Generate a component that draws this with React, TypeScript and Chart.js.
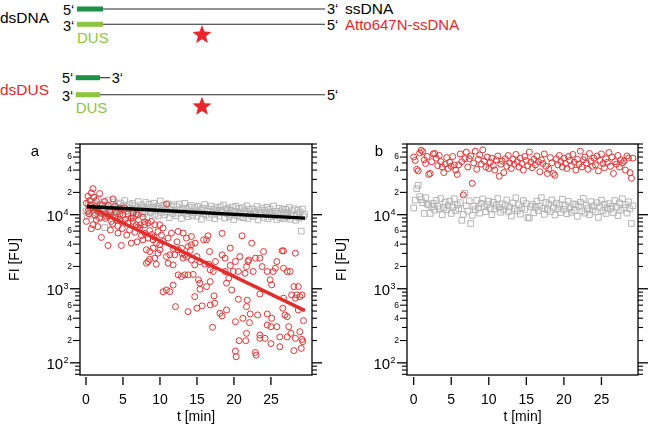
import React, { useEffect, useRef } from "react";
import { Chart, registerables } from "chart.js";

Chart.register(...registerables);

const FONT = "'Liberation Sans', Arial, Helvetica, sans-serif";

// ---------- axis definitions ----------
const X_TICKS = [0, 5, 10, 15, 20, 25];
const Y_DECADES = [100, 1000, 10000];
const Y_DECADE_EXP = ["2", "3", "4"];
const Y_MULTIPLIERS = [2, 3, 4, 5, 6, 7, 8, 9];
const Y_LABELED_MULT = [2, 4, 6];
const Y_MIN = 68.5;
const Y_MAX = 90000;

// ---------- panel a ----------
// Atto647N-ssDNA (dsDUS) in panel a: [t (min), FI (FU)]
const redA: [number, number][] = [
  [0.95,22500],[0.27,17700],[0.72,19700],[1.08,17200],[1.85,19300],[0.5,15500],[1.4,15500],[2.53,15100],[3.65,16300],[0.05,14300],
  [2.98,13400],[3.88,13000],[4.56,12300],[5.23,12300],[0.27,11100],[0.95,12300],[1.62,11100],[2.3,11700],[3.2,11100],[4.1,10500],
  [5.01,10000],[5.68,10200],[6.36,10500],[7.04,10000],[6.13,9020],[7.71,9200],[0.05,8120],[0.95,7320],[0.72,6460],[1.4,8560],
  [1.85,9020],[2.75,9490],[3.43,8120],[4.1,8560],[4.78,8120],[5.68,7710],[6.36,8120],[6.81,7320],[7.26,6600],[7.94,7320],
  [8.39,7710],[8.84,8120],[9.29,7320],[9.97,7320],[10.42,6600],[9.74,5940],[2.08,4930],[2.98,3840],[4.78,3840],[4.33,5650],
  [6.13,4130],[7.71,4580],[8.39,4830],[9.07,4580],[9.52,4130],[9.97,3920],[10.42,4350],[11.1,4830],[11.55,5650],[12.45,5940],
  [13.13,5650],[13.58,4830],[14.25,5080],[8.17,3360],[8.62,3180],[9.07,3530],[9.74,3020],[9.29,2590],[8.39,2330],[8.17,2210],
  [10.87,2720],[11.32,2870],[12.0,2870],[12.45,3360],[12.9,3530],[13.13,2590],[13.35,2870],[13.8,3720],[14.25,3920],[11.1,2210],
  [11.78,2100],[12.45,1540],[12.9,1460],[13.35,1540],[13.8,1540],[14.48,1560],[14.7,2100],[14.25,2450],[10.42,913],[10.87,964],
  [11.32,913],[11.78,1120],[10.9,13900],
  [0.4,10300],[0.6,13500],[1.2,9800],[1.3,12800],[2.0,10400],[2.2,13600],[2.6,8900],[3.0,9700],[3.3,10900],[3.6,7500],
  [3.9,9300],[4.3,7000],[4.6,10200],[4.9,6500],[5.3,8600],[5.9,6200],[6.6,5800],[7.0,6800],[7.5,5200],[8.0,5600],
  [8.6,6100],[9.2,5000],[10.2,5300],[11.8,3500],[12.3,4300],[13.0,3000],[13.6,2700],[14.1,3300],[5.5,5300],[6.9,4300],
  [3.3,6200],[1.6,6900],[6.4,9000],[6.8,10300],[7.3,7300],[7.9,8000],[8.9,5400],[8.6,2500],[9.5,2150],[10.0,3360],
  [12.1,574],[13.8,491],
  [14.75,4130],[15.0,2720],[15.4,2330],[15.9,4580],[16.3,4580],[16.5,5190],[16.7,3180],[16.1,2150],[16.6,2150],[16.8,1800],
  [17.2,1710],[17.5,2330],[18.4,5600],[18.4,2870],[18.8,2590],[18.8,1710],[19.3,1390],[19.5,3540],[19.5,2060],[19.9,1710],
  [20.2,2330],[20.6,1710],[20.8,2720],[21.1,5190],[21.5,1620],[21.7,1990],[21.9,2330],[22.0,2450],[22.4,4130],[22.6,1710],
  [22.9,2590],[23.5,2590],[23.8,1990],[24.0,3180],[24.5,1710],[24.9,1320],[25.3,1710],[25.6,1890],[25.8,2330],[26.5,3250],
  [26.7,3250],[26.7,1890],[27.2,1710],[27.6,1710],[28.1,1070],[28.3,3020],[28.5,826],[28.7,1070],[29.2,826],
  [15.2,1320],[16.3,1070],[19.0,1190],[21.8,700],[23.5,850],[25.1,1130],[26.7,746],[16.8,1250],[15.4,1190],
  [15.4,985],[14.7,783],[15.0,546],[15.7,587],[16.8,605],[17.4,638],[17.3,801],[17.1,302],[18.1,467],[18.4,430],
  [19.0,517],[19.7,962],[20.2,359],[20.6,722],[20.2,144],[20.3,121],[20.7,199],[21.2,399],[21.6,199],[21.7,250],
  [21.7,574],[22.1,349],[22.2,457],[22.9,138],[23.0,127],[23.2,443],[23.5,237],[23.5,214],[24.2,214],[24.5,457],
  [24.5,324],[25.0,308],[25.0,182],[25.1,399],[25.8,308],[26.2,224],[26.2,165],[26.6,546],[26.9,443],[27.2,420],
  [27.2,224],[27.4,308],[27.7,250],[28.1,146],[28.3,214],[28.7,517],[28.9,263],[29.1,157],[29.2,207],[29.3,193],
  [29.4,371],[27.8,826],[28.3,746],[28.9,783]
];

// dsDNA (grey squares) in panel a
const greyA_t = [
  0,0.15,0.3,0.45,0.6,0.75,0.9,1.05,1.2,1.35,
  1.5,1.65,1.8,1.95,2.1,2.25,2.4,2.55,2.7,2.85,
  3,3.15,3.3,3.45,3.6,3.75,3.9,4.05,4.2,4.35,
  4.5,4.65,4.8,4.95,5.1,5.25,5.4,5.55,5.7,5.85,
  6,6.15,6.3,6.45,6.6,6.75,6.9,7.05,7.2,7.35,
  7.5,7.65,7.8,7.95,8.1,8.25,8.4,8.55,8.7,8.85,
  9,9.15,9.3,9.45,9.6,9.75,9.9,10.05,10.2,10.35,
  10.5,10.65,10.8,10.95,11.1,11.25,11.4,11.55,11.7,11.85,
  12,12.15,12.3,12.45,12.6,12.75,12.9,13.05,13.2,13.35,
  13.5,13.65,13.8,13.95,14.1,14.25,14.4,14.55,14.7,14.85,
  15,15.15,15.3,15.45,15.6,15.75,15.9,16.05,16.2,16.35,
  16.5,16.65,16.8,16.95,17.1,17.25,17.4,17.55,17.7,17.85,
  18,18.15,18.3,18.45,18.6,18.75,18.9,19.05,19.2,19.35,
  19.5,19.65,19.8,19.95,20.1,20.25,20.4,20.55,20.7,20.85,
  21,21.15,21.3,21.45,21.6,21.75,21.9,22.05,22.2,22.35,
  22.5,22.65,22.8,22.95,23.1,23.25,23.4,23.55,23.7,23.85,
  24,24.15,24.3,24.45,24.6,24.75,24.9,25.05,25.2,25.35,
  25.5,25.65,25.8,25.95,26.1,26.25,26.4,26.55,26.7,26.85,
  27,27.15,27.3,27.45,27.6,27.75,27.9,28.05,28.2,28.35,
  28.5,28.65,28.8,28.95,29.1,29.25,29.4,29.55
];
const greyA_f = [
  11200,9600,13800,10400,12500,15200,9900,11800,14100,10700,
  12900,16200,11000,13400,9400,12200,14700,6700,13100,11500,
  15800,12000,10200,13600,11700,14900,9800,12600,10900,13900,
  11300,14400,12300,10000,13200,15500,11100,12800,9500,13700,
  12100,10500,14200,11600,13300,9700,12400,15000,10800,11900,
  13500,10300,12700,11400,14600,9300,12000,13800,10600,11200,
  12600,14300,10100,11800,13000,9600,12200,15300,10700,11500,
  13400,10000,12300,11000,14000,9100,11700,12900,10400,13600,
  11200,9700,12800,10500,13900,11400,8900,12100,10800,14200,
  10200,11900,9400,12600,11000,13300,9800,10600,12400,11300,
  9500,12900,10700,11600,8700,12200,10300,13700,9900,11100,
  12000,9200,10900,13100,10100,11700,8800,12500,10500,11400,
  9600,12800,10800,11200,13500,9000,11900,10400,12300,9400,
  11500,10000,12700,8600,11100,13000,9700,10600,12100,9300,
  10900,12400,9100,11300,10200,13200,8900,11800,10500,9800,
  12000,9500,11000,10300,12900,8500,11600,9900,10700,12300,
  9200,11400,10100,12600,8800,10800,11900,9400,10400,13100,
  9700,11100,8600,10500,12200,9100,10900,11700,8900,10200,
  11800,9300,10600,12500,8700,10000,11300,9600,12000,8400,
  10300,11500,9000,10800,6000,11900,9400,10100
];

// exponential fits (straight lines on the log axis)
const fitA_black: [number, number][] = [[0.1, 12900], [29.6, 9000]];
const fitA_red: [number, number][] = [[0.1, 13300], [29.6, 507]];

// ---------- panel b ----------
const tB = [
  0,0.2,0.4,0.6,0.8,1,1.2,1.4,1.6,1.8,
  2,2.2,2.4,2.6,2.8,3,3.2,3.4,3.6,3.8,
  4,4.2,4.4,4.6,4.8,5,5.2,5.4,5.6,5.8,
  6,6.2,6.4,6.6,6.8,7,7.2,7.4,7.6,7.8,
  8,8.2,8.4,8.6,8.8,9,9.2,9.4,9.6,9.8,
  10,10.2,10.4,10.6,10.8,11,11.2,11.4,11.6,11.8,
  12,12.2,12.4,12.6,12.8,13,13.2,13.4,13.6,13.8,
  14,14.2,14.4,14.6,14.8,15,15.2,15.4,15.6,15.8,
  16,16.2,16.4,16.6,16.8,17,17.2,17.4,17.6,17.8,
  18,18.2,18.4,18.6,18.8,19,19.2,19.4,19.6,19.8,
  20,20.2,20.4,20.6,20.8,21,21.2,21.4,21.6,21.8,
  22,22.2,22.4,22.6,22.8,23,23.2,23.4,23.6,23.8,
  24,24.2,24.4,24.6,24.8,25,25.2,25.4,25.6,25.8,
  26,26.2,26.4,26.6,26.8,27,27.2,27.4,27.6,27.8,
  28,28.2,28.4,28.6,28.8,29,29.2
];
const redB_f = [
  60000,54000,41000,39000,68000,74000,71000,55000,49000,61000,
  35000,36000,52000,66000,67000,58000,46000,63000,52000,44000,
  37000,48000,59000,42000,51000,45000,61000,47000,40000,35000,
  47000,66000,52000,18500,57000,70000,44000,57000,62000,26500,
  50000,72000,41000,56000,64000,48000,75000,53000,44000,60000,
  42000,51000,58000,46000,40000,55000,62000,33000,48000,53000,
  37000,57000,45000,63000,50000,42000,56000,48000,65000,52000,
  44000,58000,49000,40000,61000,54000,46000,70000,51000,43000,
  56000,47000,62000,52000,38000,55000,49000,66000,45000,36000,
  41000,59000,50000,36000,34000,57000,47000,63000,52000,44000,
  58000,49000,42000,61000,54000,46000,65000,51000,40000,56000,
  48000,72000,44000,55000,60000,50000,41000,67000,53000,45000,
  58000,47000,62000,39000,54000,66000,49000,43000,57000,51000,
  69000,45000,60000,36000,52000,48000,63000,44000,55000,50000,
  53000,40000,62000,58000,37000,31000,58000
];
const greyB_f = [
  12300,15700,22500,25000,17500,16000,14500,10400,17000,13900,
  13500,10400,12800,14200,11500,15600,13000,12000,16500,10000,
  12400,14800,11600,13300,15200,10400,12700,16400,11300,13600,
  12000,14500,8400,10100,19500,13200,11200,15400,7600,9800,
  13000,11700,15600,12300,10500,14200,16300,12800,11000,13700,
  15200,12100,10000,14700,11900,13400,16500,12500,10800,14000,
  11600,13300,15800,10900,12700,9600,14400,12000,16900,11300,
  13600,10200,12400,15500,11800,14100,9200,9000,12900,13800,
  10600,12600,15300,11400,13100,17000,12200,10100,14600,11700,
  13900,11000,15800,12500,9900,14300,12000,13500,10700,16200,
  11800,13300,10300,15100,12400,10800,14000,11500,13700,9500,
  12900,14800,11200,16600,10500,13400,12100,10000,15000,11600,
  13200,10900,14500,9200,12600,15700,11300,13800,10400,12200,
  14100,11900,13000,10600,15500,12700,9700,14400,11500,16400,
  12300,13600,10500,14900,12000,7600,13200
];

// ---------- drawing helpers ----------
const RED_PT = "rgb(228,50,50)";
const GREY_PT = "rgb(180,180,180)";
const FIT_RED = "rgb(228,45,42)";

const framePlugin = {
  id: "frame",
  afterDraw(chart: any) {
    const o = chart.options.plugins.frame;
    const { ctx, chartArea: a } = chart;
    const xs = chart.scales.x;
    const ys = chart.scales.y;
    ctx.save();
    ctx.strokeStyle = "#000";
    ctx.fillStyle = "#000";
    const line = (x1: number, y1: number, x2: number, y2: number) => {
      ctx.beginPath();
      ctx.moveTo(x1, y1);
      ctx.lineTo(x2, y2);
      ctx.stroke();
    };
    ctx.lineWidth = 1.3;
    ctx.strokeRect(a.left, a.top, a.right - a.left, a.bottom - a.top);

    // minor y ticks
    ctx.lineWidth = 1.1;
    for (const d of [10, 100, 1000, 10000]) {
      for (const m of Y_MULTIPLIERS) {
        const v = d * m;
        if (v < Y_MIN || v > Y_MAX) continue;
        const py = ys.getPixelForValue(v);
        const labeled = Y_LABELED_MULT.includes(m);
        line(a.left - (labeled ? 7 : 5), py, a.left, py);
        line(a.right, py, a.right + 5, py);
        if (labeled) {
          ctx.font = `8.5px ${FONT}`;
          ctx.textAlign = "right";
          ctx.textBaseline = "middle";
          ctx.fillText(String(m), a.left - 8, py);
        }
      }
    }
    // decade ticks
    ctx.lineWidth = 1.3;
    Y_DECADES.forEach((v, i) => {
      const py = ys.getPixelForValue(v);
      line(a.left - 10, py, a.left, py);
      line(a.right, py, a.right + 10, py);
      ctx.textAlign = "right";
      ctx.textBaseline = "alphabetic";
      ctx.font = `9px ${FONT}`;
      ctx.fillText(Y_DECADE_EXP[i], a.left - 11.5, py);
      const w = ctx.measureText(Y_DECADE_EXP[i]).width;
      ctx.font = `15px ${FONT}`;
      ctx.fillText("10", a.left - 11.5 - w - 0.3, py + 6.5);
    });

    // x ticks (offset below the frame)
    ctx.font = `14px ${FONT}`;
    ctx.textAlign = "center";
    ctx.textBaseline = "middle";
    X_TICKS.forEach((v) => {
      const px = xs.getPixelForValue(v);
      line(px, a.bottom + 2, px, a.bottom + 10);
      ctx.fillText(String(v), px, a.bottom + 25);
    });

    // axis titles
    ctx.fillText("t [min]", (a.left + a.right) / 2, a.bottom + 42.5);
    ctx.save();
    ctx.translate(a.left - 65, (a.top + a.bottom) / 2);
    ctx.rotate(-Math.PI / 2);
    ctx.fillText("FI [FU]", 0, 0);
    ctx.restore();

    // panel letter
    ctx.font = `15px ${FONT}`;
    ctx.textBaseline = "alphabetic";
    ctx.fillText(o.label, o.labelX, a.top + 11.7);
    ctx.restore();
  },
};

const toPts = (pairs: [number, number][]) => pairs.map(([x, y]) => ({ x, y }));
const zipPts = (t: number[], f: number[]) => t.map((x, i) => ({ x, y: f[i] }));

function makeConfig(datasets: any[], xMin: number, xMax: number, pad: any, label: string, labelX: number) {
  return {
    type: "scatter",
    data: { datasets },
    options: {
      animation: false,
      responsive: false,
      devicePixelRatio: 1,
      layout: { padding: pad },
      plugins: {
        legend: { display: false },
        tooltip: { enabled: false },
        frame: { label, labelX },
      },
      scales: {
        x: { type: "linear", min: xMin, max: xMax, display: false },
        y: { type: "logarithmic", min: Y_MIN, max: Y_MAX, display: false },
      },
    },
    plugins: [framePlugin],
  } as any;
}

const redStyle = {
  pointStyle: "circle",
  pointRadius: 3,
  borderWidth: 1,
  borderColor: RED_PT,
  backgroundColor: "rgba(0,0,0,0)",
};
const greyStyle = {
  pointStyle: "rect",
  pointRadius: 4,
  borderWidth: 1,
  borderColor: GREY_PT,
  backgroundColor: "rgba(0,0,0,0)",
};

function Panel(props: { which: "a" | "b"; left: number }) {
  const ref = useRef<HTMLCanvasElement>(null);
  useEffect(() => {
    if (!ref.current) return;
    let cfg;
    if (props.which === "a") {
      cfg = makeConfig(
        [
          { label: "fit dsDNA", data: toPts(fitA_black), showLine: true, borderColor: "#000", borderWidth: 3.4, pointRadius: 0, order: 0 },
          { label: "fit dsDUS", data: toPts(fitA_red), showLine: true, borderColor: FIT_RED, borderWidth: 3.4, pointRadius: 0, order: 0 },
          { label: "Atto647N-ssDNA", data: toPts(redA), ...redStyle, order: 1 },
          { label: "dsDNA", data: zipPts(greyA_t, greyA_f), ...greyStyle, order: 2 },
        ],
        -0.81,
        30.55,
        { left: 80, right: 13, top: 19, bottom: 52 },
        "a",
        35
      );
    } else {
      cfg = makeConfig(
        [
          { label: "Atto647N-ssDNA", data: zipPts(tB, redB_f), ...redStyle, order: 1 },
          { label: "dsDNA", data: zipPts(tB, greyB_f), ...greyStyle, order: 2 },
        ],
        -0.89,
        29.87,
        { left: 82, right: 12, top: 19, bottom: 52 },
        "b",
        54
      );
    }
    const chart = new Chart(ref.current, cfg);
    return () => chart.destroy();
  }, [props.which]);
  return (
    <canvas
      ref={ref}
      width={325}
      height={302}
      style={{ position: "absolute", left: props.left, top: 125, width: 325, height: 302 }}
    />
  );
}

function starPoints(cx: number, cy: number, R: number, r: number) {
  const pts: string[] = [];
  for (let i = 0; i < 10; i++) {
    const ang = -Math.PI / 2 + (i * Math.PI) / 5;
    const rad = i % 2 === 0 ? R : r;
    pts.push(`${(cx + rad * Math.cos(ang)).toFixed(2)},${(cy + rad * Math.sin(ang)).toFixed(2)}`);
  }
  return pts.join(" ");
}

const DARK_GREEN = "#1b9145";
const LIGHT_GREEN = "#8cc63f";
const LABEL_RED = "#e8262b";
const STRAND = "#2a2a2a";

function Schematic() {
  return (
    <svg
      width={650}
      height={125}
      style={{ position: "absolute", left: 0, top: 0 }}
      fontFamily={FONT}
    >
      {/* dsDNA */}
      <text x={0} y={22.7} fontSize={15.5} fill="#000">dsDNA</text>
      <text x={63} y={14.5} fontSize={14.5} fill="#000">5‘</text>
      <rect x={77} y={6.5} width={26} height={5} fill={DARK_GREEN} />
      <line x1={103} y1={9} x2={325} y2={9} stroke={STRAND} strokeWidth={1.1} />
      <text x={327} y={14} fontSize={14.5} fill="#000">3‘</text>
      <text x={345} y={13.5} fontSize={15.5} fill="#000">ssDNA</text>

      <text x={63} y={30.5} fontSize={14.5} fill="#000">3‘</text>
      <rect x={77} y={21.8} width={26} height={5} fill={LIGHT_GREEN} />
      <line x1={103} y1={24.3} x2={325} y2={24.3} stroke={STRAND} strokeWidth={1.1} />
      <text x={327} y={30} fontSize={14.5} fill="#000">5‘</text>
      <text x={345} y={30} fontSize={15} fill={LABEL_RED}>Atto647N-ssDNA</text>
      <text x={77} y={42.7} fontSize={15} fill={LIGHT_GREEN}>DUS</text>
      <polygon points={starPoints(202, 35, 10, 4.3)} fill={LABEL_RED} />

      {/* dsDUS */}
      <text x={0} y={95} fontSize={15.5} fill={LABEL_RED}>dsDUS</text>
      <text x={62} y={83.3} fontSize={14.5} fill="#000">5‘</text>
      <rect x={75.7} y={75.2} width={24.3} height={5} fill={DARK_GREEN} />
      <line x1={100} y1={77.7} x2={110} y2={77.7} stroke={STRAND} strokeWidth={1.1} />
      <text x={111.7} y={83} fontSize={14.5} fill="#000">3‘</text>

      <text x={62} y={100.7} fontSize={14.5} fill="#000">3‘</text>
      <rect x={75.7} y={92.2} width={24.3} height={5} fill={LIGHT_GREEN} />
      <line x1={100} y1={94.7} x2={325} y2={94.7} stroke={STRAND} strokeWidth={1.1} />
      <text x={327} y={100} fontSize={14.5} fill="#000">5‘</text>
      <text x={75.7} y={112.7} fontSize={15} fill={LIGHT_GREEN}>DUS</text>
      <polygon points={starPoints(202, 106.7, 10, 4.3)} fill={LABEL_RED} />
    </svg>
  );
}

export default function App() {
  return (
    <div style={{ position: "absolute", left: 0, top: 0, width: 650, height: 427, background: "#fff", overflow: "hidden" }}>
      <Schematic />
      <Panel which="a" left={0} />
      <Panel which="b" left={325} />
    </div>
  );
}
